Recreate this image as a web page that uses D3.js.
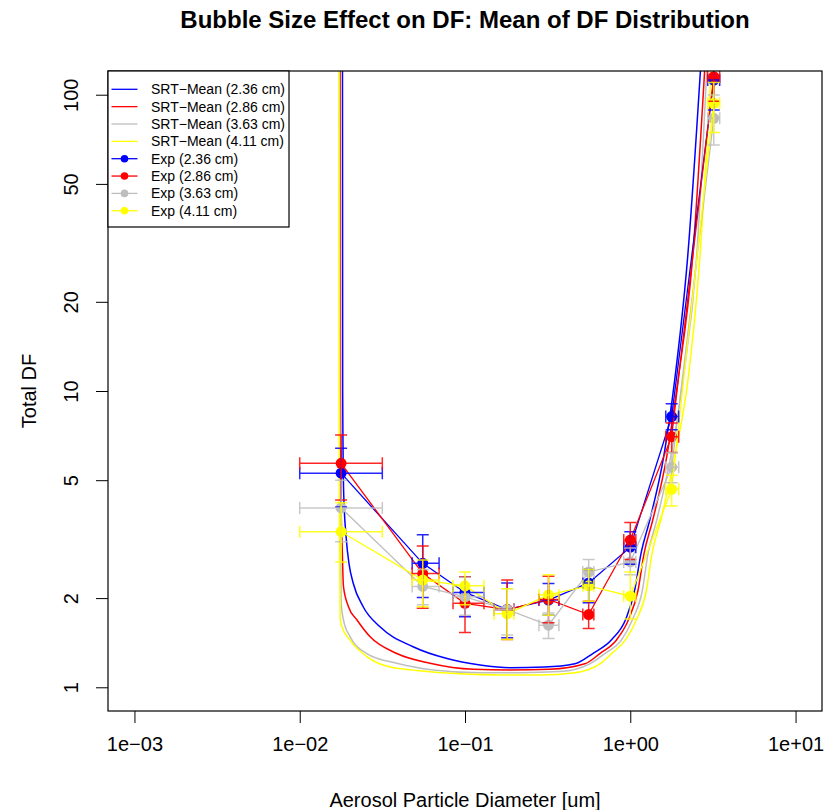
<!DOCTYPE html>
<html>
<head>
<meta charset="utf-8">
<script src="https://cdn.jsdelivr.net/npm/d3@7"></script>
<style>
  body { margin: 0; background: #fff; }
  text { font-family: "Liberation Sans", Arial, Helvetica, sans-serif; fill: #000; }
</style>
</head>
<body>
<svg id="chart" width="824" height="810"></svg>
<script>
/*=====================================================================
 data
======================================================================*/
var sizes = ["2.36", "2.86", "3.63", "4.11"];
var colors = ["#0000FF", "#FF0000", "#BEBEBE", "#FFFF00"];

// experimental points: particle diameter (um) and horizontal error range
var expD   = [0.0178, 0.0555, 0.1, 0.18, 0.32, 0.56, 1.0, 1.78, 3.2];
var expDLo = [0.01, 0.0479, 0.0846, 0.1497, 0.280, 0.516, 0.913, 1.639, 2.94];
var expDHi = [0.0316, 0.0697, 0.1302, 0.1977, 0.370, 0.602, 1.08, 1.963, 3.475];

// experimental total DF, with low / high error bar ends
var expBlue     = [5.28, 2.62, 2.09, 1.83, 1.97, 2.25, 2.97, 8.2, 112];
var expBlueLo   = [4.06, 2.01, 1.73, 1.47, 1.75, 1.93, 2.6, 7.4, 88.8];
var expBlueHi   = [6.41, 3.27, 2.36, 2.25, 2.24, 2.5, 3.35, 9.05, 140];
var expRed      = [5.70, 2.42, 1.92, 1.83, 1.98, 1.76, 3.14, 7.01, 115];
var expRedLo    = [4.29, 1.85, 1.53, 1.45, 1.65, 1.58, 2.7, 6.2, 95];
var expRedHi    = [7.1, 3.0, 2.36, 2.3, 2.37, 1.95, 3.6, 7.8, 140];
var expGray     = [4.03, 2.19, 2.02, 1.83, 1.62, 2.45, 2.65, 5.53, 83.2];
var expGrayLo   = [3.1, 1.9, 1.75, 1.5, 1.46, 2.2, 2.4, 4.9, 67.6];
var expGrayHi   = [5.0, 2.5, 2.35, 2.15, 1.78, 2.7, 2.95, 6.19, 99.7];
var expYellow   = [3.35, 2.30, 2.20, 1.77, 2.05, 2.2, 2.03, 4.66, 93.5];
var expYellowLo = [2.65, 1.87, 1.9, 1.45, 1.75, 1.95, 1.7, 4.09, 74.5];
var expYellowHi = [4.2, 2.69, 2.45, 2.15, 2.4, 2.5, 2.45, 5.2, 110];

// SRT mean model curves
var srtBlueD = [0.01814, 0.01819, 0.01845, 0.0191, 0.0199, 0.02105, 0.0242, 0.0306, 0.0485, 0.0778, 0.1232, 0.187, 0.304, 0.462, 0.593, 0.773, 0.940, 1.064, 1.157, 1.312, 1.593, 1.857, 2.217, 2.68];
var srtBlueV = [130, 10, 4.5, 3.2, 2.6, 2.25, 1.87, 1.60, 1.37, 1.25, 1.19, 1.165, 1.17, 1.20, 1.30, 1.45, 1.70, 2.13, 2.8, 3.67, 6.0, 10.9, 27.7, 130];
var srtRedD = [0.01757, 0.01764, 0.01781, 0.01806, 0.01839, 0.01972, 0.02216, 0.02667, 0.03866, 0.0614, 0.1122, 0.187, 0.3263, 0.531, 0.6544, 0.8254, 0.9793, 1.115, 1.207, 1.368, 1.662, 1.945, 2.376, 2.84];
var srtRedV = [130, 10, 4, 3.0, 2.19, 1.87, 1.69, 1.48, 1.30, 1.205, 1.15, 1.144, 1.15, 1.2, 1.3, 1.445, 1.7, 2.13, 2.8, 3.67, 6, 10.9, 27.7, 130];
var srtGrayD = [0.01739, 0.01746, 0.0177, 0.01781, 0.01839, 0.02019, 0.02547, 0.03866, 0.0643, 0.1232, 0.2149, 0.375, 0.5692, 0.7015, 0.8847, 1.035, 1.185, 1.276, 1.446, 1.757, 2.084, 2.512, 2.92];
var srtGrayV = [130, 10, 3, 1.92, 1.69, 1.48, 1.30, 1.205, 1.144, 1.12, 1.12, 1.13, 1.2, 1.3, 1.445, 1.7, 2.13, 2.8, 3.67, 6, 10.9, 27.7, 130];
var srtYellowD = [0.01725, 0.01732, 0.01744, 0.01757, 0.01799, 0.02019, 0.02547, 0.03522, 0.05107, 0.0933, 0.1627, 0.2839, 0.4621, 0.6544, 0.773, 0.9354, 1.095, 1.253, 1.349, 1.529, 1.857, 2.235, 2.63, 3.108];
var srtYellowV = [130, 10, 3, 1.69, 1.60, 1.44, 1.27, 1.17, 1.14, 1.11, 1.10, 1.10, 1.12, 1.2, 1.3, 1.445, 1.7, 2.13, 2.8, 3.67, 6, 10.9, 27.7, 130];

// axis ticks
var xTicks = [1e-3, 1e-2, 1e-1, 1, 10];
var xTickLabels = ["1e\u221203", "1e\u221202", "1e\u221201", "1e+00", "1e+01"];
var yTicks = [1, 2, 5, 10, 20, 50, 100];
var yTickLabels = ["1", "2", "5", "10", "20", "50", "100"];

/*=====================================================================
 layout + scales (R style: 4% padding on log axes)
======================================================================*/
var plotLeft = 108, plotRight = 822, plotTop = 71, plotBottom = 711;

var x = d3.scaleLog()
    .domain([Math.pow(10, -3.16), Math.pow(10, 1.16)])
    .range([plotLeft, plotRight]);
var y = d3.scaleLog()
    .domain([Math.pow(10, -0.08), Math.pow(10, 2.08)])
    .range([plotBottom, plotTop]);

var svg = d3.select("#chart");

svg.append("defs").append("clipPath")
    .attr("id", "plotclip")
    .append("rect")
    .attr("x", plotLeft).attr("y", plotTop)
    .attr("width", plotRight - plotLeft).attr("height", plotBottom - plotTop);

var plot = svg.append("g").attr("clip-path", "url(#plotclip)");

/*************
 model curves
**************/
var srt = [
    { d: srtBlueD, v: srtBlueV },
    { d: srtRedD, v: srtRedV },
    { d: srtGrayD, v: srtGrayV },
    { d: srtYellowD, v: srtYellowV }
];

var curve = d3.line()
    .x(function (p) { return x(p[0]); })
    .y(function (p) { return y(p[1]); })
    .curve(d3.curveMonotoneX);

srt.forEach(function (s, i) {
    plot.append("path")
        .datum(d3.zip(s.d, s.v))
        .attr("d", curve)
        .attr("fill", "none")
        .attr("stroke", colors[i])
        .attr("stroke-width", 1.5);
});

/******************
 experimental data
*******************/
var exp = [
    { v: expBlue, lo: expBlueLo, hi: expBlueHi },
    { v: expRed, lo: expRedLo, hi: expRedHi },
    { v: expGray, lo: expGrayLo, hi: expGrayHi },
    { v: expYellow, lo: expYellowLo, hi: expYellowHi }
];

var straight = d3.line()
    .x(function (p) { return x(p[0]); })
    .y(function (p) { return y(p[1]); });

exp.forEach(function (s, i) {
    plot.append("path")
        .datum(d3.zip(expD, s.v))
        .attr("d", straight)
        .attr("fill", "none")
        .attr("stroke", colors[i])
        .attr("stroke-width", 1.3);

    plot.selectAll(".pt" + i)
        .data(expD)
        .enter().append("circle")
        .attr("class", "pt" + i)
        .attr("cx", function (d) { return x(d); })
        .attr("cy", function (d, j) { return y(s.v[j]); })
        .attr("r", 5.5)
        .attr("fill", colors[i]);
});

// error bars on top
var cap = 6;
exp.forEach(function (s, i) {
    var g = plot.append("g")
        .attr("stroke", colors[i])
        .attr("stroke-width", 1.5)
        .attr("stroke-opacity", 0.85)
        .attr("fill", "none");

    expD.forEach(function (d, j) {
        var cx = x(d), cy = y(s.v[j]);
        var yl = y(s.lo[j]), yh = y(s.hi[j]);
        var xl = x(expDLo[j]), xh = x(expDHi[j]);
        // vertical
        g.append("path").attr("d",
            "M" + cx + "," + yl + "V" + yh +
            "M" + (cx - cap) + "," + yl + "H" + (cx + cap) +
            "M" + (cx - cap) + "," + yh + "H" + (cx + cap));
        // horizontal
        g.append("path").attr("d",
            "M" + xl + "," + cy + "H" + xh +
            "M" + xl + "," + (cy - cap) + "V" + (cy + cap) +
            "M" + xh + "," + (cy - cap) + "V" + (cy + cap));
    });
});

/*****
 axes
******/
var xAxis = svg.append("g")
    .attr("transform", "translate(0," + plotBottom + ")")
    .call(d3.axisBottom(x)
        .tickValues(xTicks)
        .tickFormat(function (d, i) { return xTickLabels[i]; })
        .tickSize(12)
        .tickPadding(14));
xAxis.select(".domain").remove();
xAxis.selectAll("line").attr("stroke", "#000");
xAxis.selectAll("text")
    .attr("font-size", 20)
    .attr("font-family", "Liberation Sans, Arial, sans-serif");

var yAxis = svg.append("g")
    .attr("transform", "translate(" + plotLeft + ",0)")
    .call(d3.axisLeft(y)
        .tickValues(yTicks)
        .tickFormat(function (d, i) { return yTickLabels[i]; })
        .tickSize(12));
yAxis.select(".domain").remove();
yAxis.selectAll("line").attr("stroke", "#000");
yAxis.selectAll("text")
    .attr("font-size", 20)
    .attr("font-family", "Liberation Sans, Arial, sans-serif")
    .attr("x", null).attr("dy", null)
    .attr("text-anchor", "middle")
    .attr("transform", "translate(-30,0) rotate(-90)")
    .attr("y", 0);

// box
svg.append("rect")
    .attr("x", plotLeft).attr("y", plotTop)
    .attr("width", plotRight - plotLeft).attr("height", plotBottom - plotTop)
    .attr("fill", "none")
    .attr("stroke", "#000")
    .attr("stroke-width", 1.2);

/*******
 titles
********/
svg.append("text")
    .attr("x", (plotLeft + plotRight) / 2).attr("y", 28)
    .attr("text-anchor", "middle")
    .attr("font-size", 24)
    .attr("font-weight", "bold")
    .text("Bubble Size Effect on DF: Mean of DF Distribution");

svg.append("text")
    .attr("x", (plotLeft + plotRight) / 2).attr("y", 807)
    .attr("text-anchor", "middle")
    .attr("font-size", 20)
    .text("Aerosol Particle Diameter [um]");

svg.append("text")
    .attr("transform", "translate(36," + ((plotTop + plotBottom) / 2) + ") rotate(-90)")
    .attr("text-anchor", "middle")
    .attr("font-size", 20)
    .text("Total DF");

/*******
 legend
********/
var lg = svg.append("g");
lg.append("rect")
    .attr("x", plotLeft).attr("y", plotTop)
    .attr("width", 181).attr("height", 156)
    .attr("fill", "#fff")
    .attr("stroke", "#000")
    .attr("stroke-width", 1.2);

var legendItems = [];
sizes.forEach(function (s, i) { legendItems.push({ label: "SRT\u2212Mean (" + s + " cm)", color: colors[i], dot: false }); });
sizes.forEach(function (s, i) { legendItems.push({ label: "Exp (" + s + " cm)", color: colors[i], dot: true }); });

legendItems.forEach(function (it, i) {
    var ly = 89.3 + i * 17.35;
    lg.append("line")
        .attr("x1", 111.5).attr("x2", 137.5)
        .attr("y1", ly).attr("y2", ly)
        .attr("stroke", it.color)
        .attr("stroke-width", 1.3);
    if (it.dot) {
        lg.append("circle")
            .attr("cx", 124.5).attr("cy", ly).attr("r", 3.8)
            .attr("fill", it.color);
    }
    lg.append("text")
        .attr("x", 151).attr("y", ly)
        .attr("dy", "0.35em")
        .attr("font-size", 14)
        .text(it.label);
});
</script>
</body>
</html>
